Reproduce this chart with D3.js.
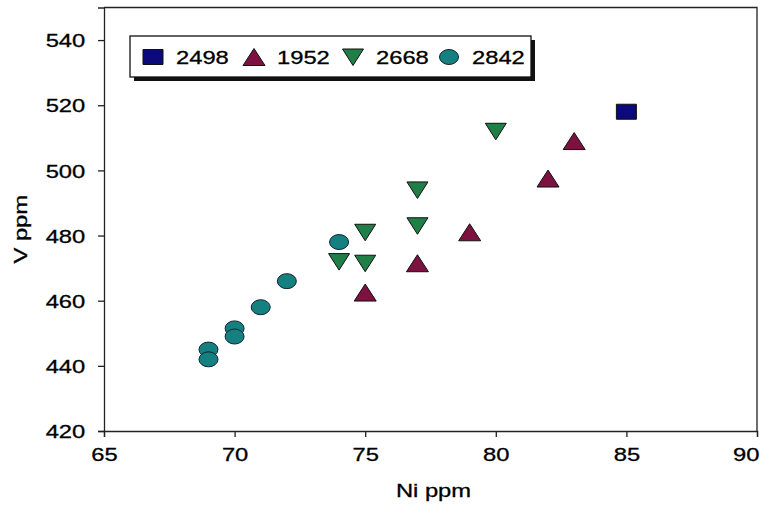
<!DOCTYPE html>
<meta charset="utf-8">
<head>
    <title>Ni vs V</title>
    <script src="https://cdn.jsdelivr.net/npm/d3@7"></script>
    <style>
        html, body { margin: 0; padding: 0; background: #fff; }
        text { font-family: "Liberation Sans", Arial, sans-serif; fill: #000; }
    </style>
</head>
<body>
<div id="chart"></div>
<script>
    // data
    var seriesNames = ["2498", "1952", "2668", "2842"];
    var ni2498 = [85];
    var v2498  = [518];
    var ni1952 = [83, 82, 79, 77, 75];
    var v1952  = [509, 497.5, 481, 471.5, 462.5];
    var ni2668 = [80, 77, 77, 75, 74, 75];
    var v2668  = [512, 494, 483, 481, 472, 471.5];
    var ni2842 = [74, 72, 71, 70, 70, 69, 69];
    var v2842  = [478, 466, 458, 451.5, 449, 445, 442];
    var xTicks = [65, 70, 75, 80, 85, 90];
    var yTicks = [420, 440, 460, 480, 500, 520, 540];

    var W = 768, H = 506;
    var margin = {top: 7.5, right: 11, bottom: 75, left: 104};
    var width = W - margin.left - margin.right;
    var height = H - margin.top - margin.bottom;
    var FS = "19px";
    var stretch = "scale(1.25,1)"; // the original text is wide

    var svg = d3.select("#chart").append("svg")
        .attr("width", W).attr("height", H);
    var g = svg.append("g")
        .attr("transform", "translate(" + margin.left + "," + margin.top + ")");

    var x = d3.scaleLinear().domain([65, 90]).range([0, width]);
    var y = d3.scaleLinear().domain([420, 550]).range([height, 0]);

    // frame top and right
    g.append("path")
        .attr("d", "M0,0H" + width + "V" + height)
        .attr("fill", "none").attr("stroke", "#222").attr("stroke-width", 1.3);

    var xAxis = g.append("g")
        .attr("transform", "translate(0," + height + ")")
        .call(d3.axisBottom(x).tickValues(xTicks).tickSize(6).tickPadding(11));
    var yAxis = g.append("g")
        .call(d3.axisLeft(y).tickValues(yTicks).tickSize(6).tickPadding(8));
    [xAxis, yAxis].forEach(function(a) {
        a.select(".domain").attr("stroke", "#222").attr("stroke-width", 1.3);
        a.selectAll(".tick line").attr("stroke", "#222").attr("stroke-width", 1.3);
        a.selectAll("text").style("font-size", FS).attr("fill", "#000")
            .attr("stroke", "#000").attr("stroke-width", 0.3);
    });
    xAxis.selectAll("text").attr("transform", stretch)
        .attr("x", function(d) { return d == 90 ? -9 : 0; });
    yAxis.selectAll("text").attr("dy", "0.35em").attr("x", -15).attr("transform", stretch);

    svg.append("text")
        .attr("transform", "translate(" + (margin.left + width / 2 + 3) + ",497) " + stretch)
        .attr("text-anchor", "middle").style("font-size", FS)
        .attr("stroke", "#000").attr("stroke-width", 0.3)
        .text("Ni ppm");
    svg.append("text")
        .attr("transform", "translate(27," + (margin.top + height / 2 + 10) + ") rotate(-90) " + stretch)
        .attr("text-anchor", "middle").style("font-size", FS)
        .attr("stroke", "#000").attr("stroke-width", 0.3)
        .text("V ppm");

    // markers
    var styles = [
        {fill: "#0a0a7a", shape: "square"},
        {fill: "#7d1240", shape: "up"},
        {fill: "#1f7f46", shape: "down"},
        {fill: "#158080", shape: "ellipse"}
    ];
    function marker(sel, shape, fill) {
        var p;
        if (shape == "square") p = "M-10,-7.5H10V7.5H-10Z";
        else if (shape == "up") p = "M0,-8.5L11,8.5H-11Z";
        else if (shape == "down") p = "M-10.5,-8H10.5L0,8.5Z";
        else {
            sel.append("ellipse").attr("rx", 9.5).attr("ry", 7.5)
                .attr("fill", fill).attr("stroke", "#123").attr("stroke-width", 1);
            return;
        }
        sel.append("path").attr("d", p)
            .attr("fill", fill).attr("stroke", "#111").attr("stroke-width", 1);
    }

    var allX = [ni2498, ni1952, ni2668, ni2842];
    var allY = [v2498, v1952, v2668, v2842];
    allX.forEach(function(xs, i) {
        xs.forEach(function(xv, j) {
            var m = g.append("g")
                .attr("transform", "translate(" + x(xv) + "," + y(allY[i][j]) + ")");
            marker(m, styles[i].shape, styles[i].fill);
        });
    });

    // legend
    var leg = svg.append("g").attr("transform", "translate(130,36)");
    leg.append("rect").attr("x", 4).attr("y", 4).attr("width", 401).attr("height", 41).attr("fill", "#111");
    leg.append("rect").attr("width", 401).attr("height", 41)
        .attr("fill", "#fff").attr("stroke", "#111").attr("stroke-width", 1.3);
    var legX = [23, 124, 223, 319];
    seriesNames.forEach(function(name, i) {
        var item = leg.append("g").attr("transform", "translate(" + legX[i] + ",21)");
        marker(item, styles[i].shape, styles[i].fill);
        item.append("text").attr("transform", "translate(23,7) " + stretch)
            .style("font-size", FS).attr("stroke", "#000").attr("stroke-width", 0.3)
            .text(name);
    });
</script>
</body>
